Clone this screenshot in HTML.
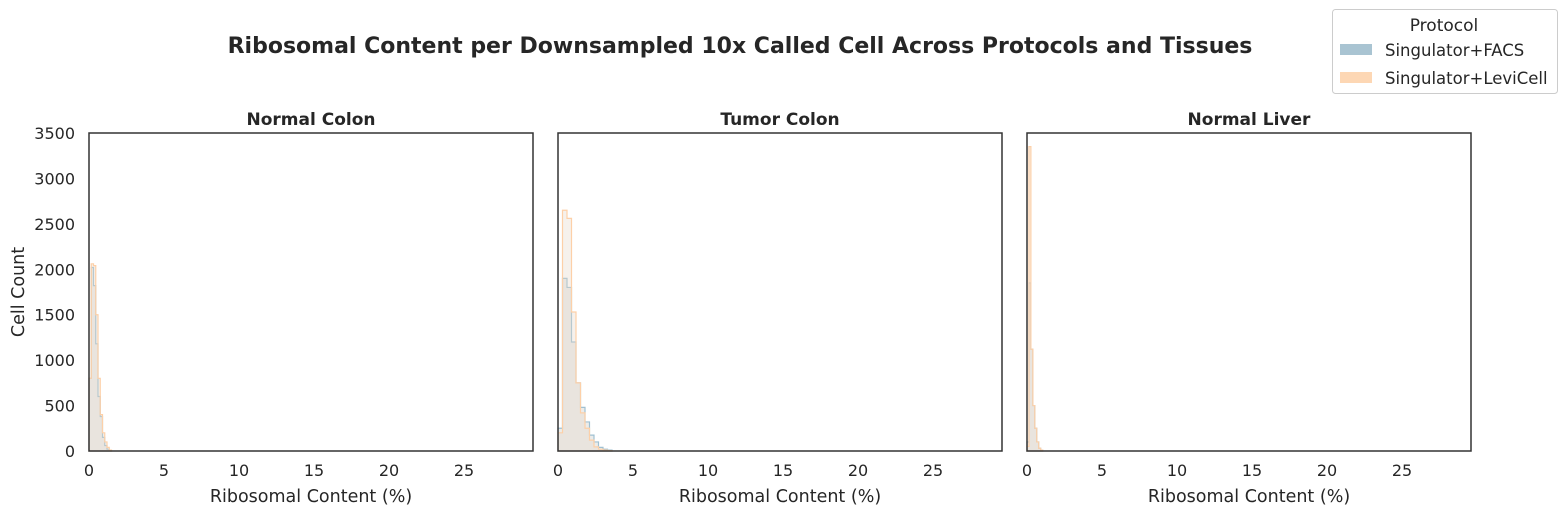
<!DOCTYPE html>
<html><head><meta charset="utf-8"><style>
body{margin:0;background:#fff;font-family:"DejaVu Sans",sans-serif;}
</style></head><body>
<svg id="c" width="1566" height="516" xmlns="http://www.w3.org/2000/svg" font-family="DejaVu Sans, sans-serif">
<text x="740" y="53" text-anchor="middle" font-size="22" font-weight="bold" fill="#262626">Ribosomal Content per Downsampled 10x Called Cell Across Protocols and Tissues</text>
<g>
<rect x="1332.5" y="9.5" width="225" height="84" rx="3" fill="#fff" stroke="#ccc"/>
<text x="1444" y="31" text-anchor="middle" font-size="17" fill="#262626">Protocol</text>
<rect x="1340" y="44" width="32" height="11" fill="#a9c4d2"/>
<text x="1385" y="56" font-size="16.5" fill="#262626">Singulator+FACS</text>
<rect x="1340" y="72" width="32" height="11" fill="#fdd7b4"/>
<text x="1385" y="84" font-size="16.5" fill="#262626">Singulator+LeviCell</text>
</g>
<text transform="translate(24,292) rotate(-90)" text-anchor="middle" font-size="17.5" fill="#262626">Cell Count</text>
</svg>
<script>
const panelTitles=["Normal Colon","Tumor Colon","Normal Liver"];
const binWidths=[0.15,0.3,0.13];
const facsCounts=[
 [800,2020,1820,1180,600,380,150,60,20,5],
 [250,1900,1800,1200,750,480,320,175,100,40,20,10],
 [100,1850,1120,500,250,100,30,10]];
const leviCounts=[
 [800,2060,2040,1500,800,400,200,100,40,10],
 [200,2650,2560,1530,750,420,250,120,45,20,10,5],
 [50,3350,1120,500,250,100,30,10]];
const yTicks=[0,500,1000,1500,2000,2500,3000,3500];
const xTicks=[0,5,10,15,20,25];
const panelX=[89,558,1027];
const W=444,plotTop=133,plotBot=451,xMax=29.6,yMax=3500;
const svg=document.getElementById('c');
const NS='http://www.w3.org/2000/svg';
function mk(t,a){const e=document.createElementNS(NS,t);for(const k in a)e.setAttribute(k,a[k]);svg.appendChild(e);return e;}
panelTitles.forEach((title,p)=>{
 const x0=panelX[p];
 const sx=v=>x0+v/xMax*W, sy=v=>plotBot-v/yMax*(plotBot-plotTop);
 function step(counts,stroke,fill,name){
  let d='M'+sx(0)+','+sy(0);
  counts.forEach((c,i)=>{d+=' L'+sx(i*binWidths[p])+','+sy(c)+' L'+sx((i+1)*binWidths[p])+','+sy(c);});
  d+=' L'+sx(counts.length*binWidths[p])+','+sy(0)+' Z';
  const e=mk('path',{d:d,fill:fill,stroke:stroke,'stroke-width':1.2});
  
  
 }
 step(facsCounts[p],'#9fc0d2','rgba(200,200,195,0.35)','facs-histogram');
 step(leviCounts[p],'#fdd0a8','rgba(230,215,200,0.35)','levicell-histogram');
 const fr=mk('rect',{x:x0,y:plotTop,width:W,height:plotBot-plotTop,fill:'none',stroke:'#333','stroke-width':1.5});
 
 
 const t=mk('text',{x:x0+W/2,y:125,'text-anchor':'middle','font-size':17,'font-weight':'bold',fill:'#262626'});
 t.textContent=title;
 
 
 xTicks.forEach(v=>{
  const l=mk('text',{x:sx(v),y:476,'text-anchor':'middle','font-size':16,fill:'#262626'});
  l.textContent=v;
  
  
 });
 const xt=mk('text',{x:x0+W/2,y:502,'text-anchor':'middle','font-size':17.5,fill:'#262626'});
 xt.textContent='Ribosomal Content (%)';
 
 
 if(p===0){yTicks.forEach(v=>{
  const l=mk('text',{x:x0-14,y:sy(v)+6,'text-anchor':'end','font-size':16,fill:'#262626'});
  l.textContent=v;
  
  
 });}
});
</script>
</body></html>
